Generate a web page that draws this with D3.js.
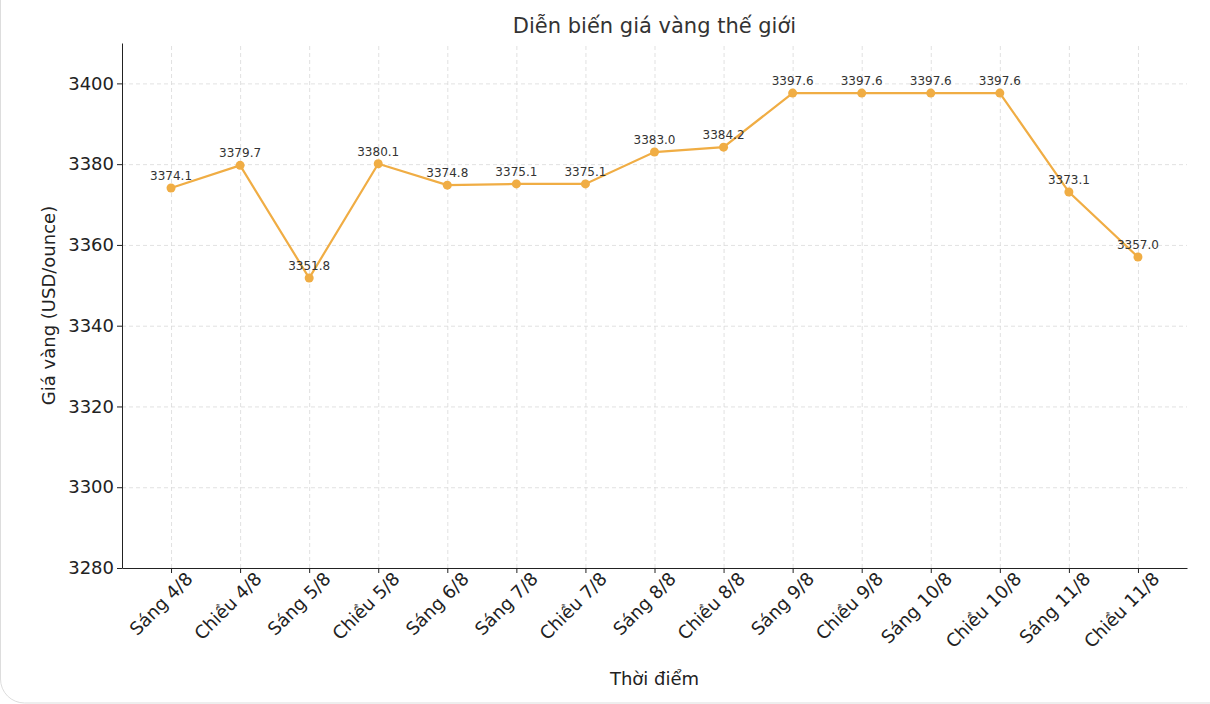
<!DOCTYPE html>
<html lang="vi">
<head>
<meta charset="UTF-8">
<title>Diễn biến giá vàng thế giới</title>
<script src="https://d3js.org/d3.v7.min.js"></script>
<style>
  body { margin: 0; background: #fff; font-family: "DejaVu Sans", sans-serif; }
  .grid line { stroke: #d9d9d9; stroke-dasharray: 4 3; stroke-width: 0.8; }
  .grid .domain { display: none; }
  .axis text { font-size: 18px; fill: #222; font-family: "DejaVu Sans", sans-serif; }
  .axis .domain, .axis .tick line { stroke: #222; }
</style>
</head>
<body>
<script>
const labels = ["Sáng 4/8","Chiều 4/8","Sáng 5/8","Chiều 5/8","Sáng 6/8","Sáng 7/8","Chiều 7/8",
  "Sáng 8/8","Chiều 8/8","Sáng 9/8","Chiều 9/8","Sáng 10/8","Chiều 10/8","Sáng 11/8","Chiều 11/8"];
const prices = [3374.1,3379.7,3351.8,3380.1,3374.8,3375.1,3375.1,3383.0,3384.2,3397.6,3397.6,3397.6,3397.6,3373.1,3357.0];
const yTicks = [3280,3300,3320,3340,3360,3380,3400];

const width = 1210, height = 704;
const m = {left: 122, right: 1187, top: 43, bottom: 568};
const color = "#f0ad44";

const svg = d3.select("body").append("svg").attr("width", width).attr("height", height);

svg.append("rect").attr("x", 0.5).attr("y", -30).attr("width", width + 30).attr("height", height + 29)
  .attr("rx", 24).attr("fill", "#fff").attr("stroke", "#ddd");

const x = d3.scalePoint().domain(labels).range([m.left, m.right]).padding(0.71);
const y = d3.scaleLinear().domain([3280, 3410]).range([m.bottom, m.top]);

svg.append("g").attr("class", "grid").attr("transform", `translate(0,${m.bottom})`)
  .call(d3.axisBottom(x).tickSize(-(m.bottom - m.top)).tickFormat(""));
svg.append("g").attr("class", "grid").attr("transform", `translate(${m.left},0)`)
  .call(d3.axisLeft(y).tickValues(yTicks).tickSize(-(m.right - m.left)).tickFormat(""));

const xa = svg.append("g").attr("class", "axis").attr("transform", `translate(0,${m.bottom})`)
  .call(d3.axisBottom(x).tickSize(5).tickSizeOuter(0));
xa.selectAll("text").attr("text-anchor", "end").attr("dx", "0.4em").attr("dy", "0.9em")
  .attr("transform", "rotate(-45)");
svg.append("g").attr("class", "axis").attr("transform", `translate(${m.left},0)`)
  .call(d3.axisLeft(y).tickValues(yTicks).tickFormat(d3.format("d")).tickSize(5).tickSizeOuter(0));

svg.append("path").datum(prices)
  .attr("fill", "none").attr("stroke", color).attr("stroke-width", 2.2)
  .attr("d", d3.line().x((d, i) => x(labels[i])).y(d => y(d)));

svg.selectAll(".dot").data(prices).enter().append("circle")
  .attr("cx", (d, i) => x(labels[i])).attr("cy", d => y(d)).attr("r", 4.5).attr("fill", color);

svg.selectAll(".lbl").data(prices).enter().append("text")
  .attr("x", (d, i) => x(labels[i])).attr("y", d => y(d) - 8)
  .attr("text-anchor", "middle").attr("font-size", 12).attr("fill", "#333")
  .text(d => d.toFixed(1));

svg.append("text").attr("x", (m.left + m.right) / 2).attr("y", 33).attr("text-anchor", "middle")
  .attr("font-size", 21).attr("fill", "#333").text("Diễn biến giá vàng thế giới");
svg.append("text").attr("x", (m.left + m.right) / 2).attr("y", 685).attr("text-anchor", "middle")
  .attr("font-size", 18).attr("fill", "#222").text("Thời điểm");
svg.append("text").attr("transform", `translate(55,${(m.top + m.bottom) / 2}) rotate(-90)`)
  .attr("text-anchor", "middle").attr("font-size", 18).attr("fill", "#222").text("Giá vàng (USD/ounce)");
</script>
</body>
</html>
